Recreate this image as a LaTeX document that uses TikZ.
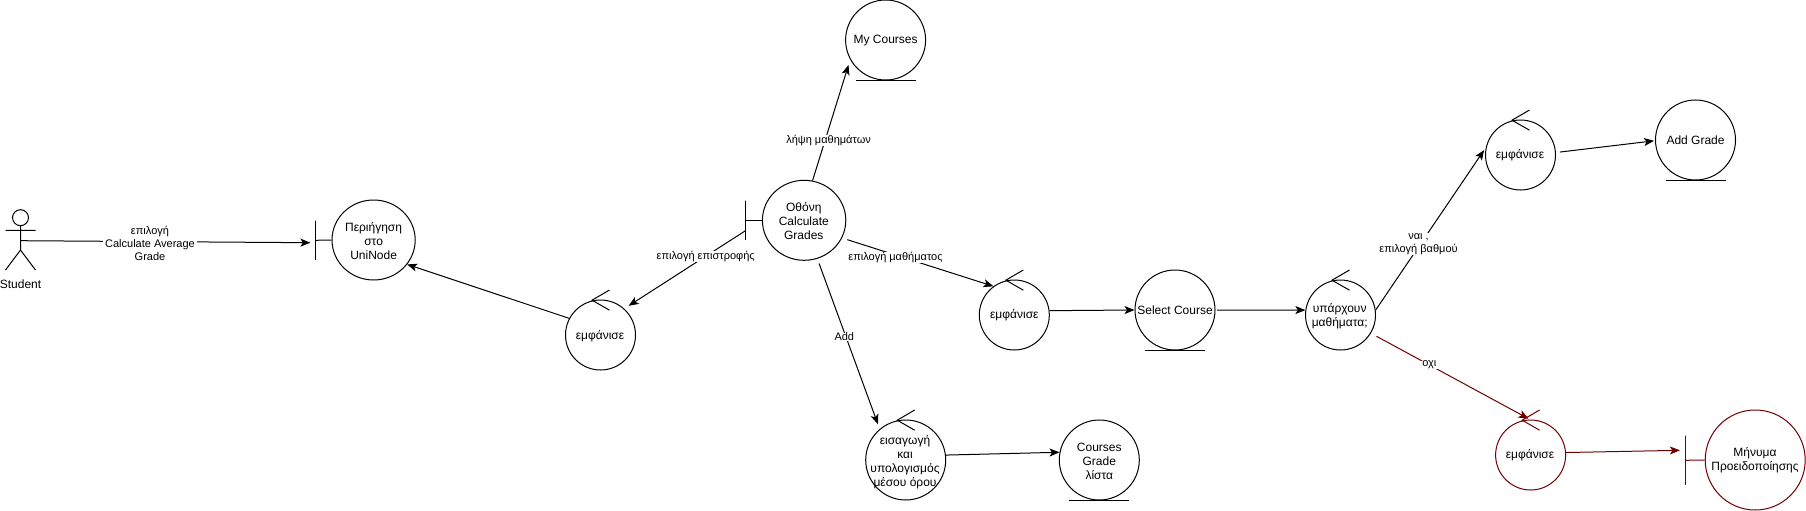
\documentclass[tikz,border=0pt]{standalone}
\usepackage{fontspec}
\setmainfont{Liberation Sans}
\usetikzlibrary{arrows.meta,shapes.geometric}
\definecolor{warn}{HTML}{6F0000}
\tikzset{
  bubble/.style={draw,ellipse,inner sep=0pt,minimum width=#1*2pt,minimum height=70pt},
  bubble/.default=35,
  wide/.style={minimum height=80pt},
  txt/.style={align=center,font=\fontsize{12}{14}\selectfont,inner sep=0pt},
  elabel/.style={align=center,font=\fontsize{11}{13}\selectfont,fill=white,inner xsep=2pt,inner ysep=0pt},
  barline/.style={draw,rectangle,inner sep=0pt,minimum width=0pt},
  conn/.style={-{Stealth[length=10pt,width=8pt,inset=2.5pt]},line width=1pt},
  every path/.append style={line width=1pt}
}
\newcommand{\ctlmark}[2][black]{\draw[#1] ([shift={(9,-9.5)}]#2.north) -- ([shift={(-8.5,0.7)}]#2.north) -- ([shift={(9,10.7)}]#2.north);}
\newcommand{\entmark}[1]{\draw ([xshift=-30pt]#1.south) -- ([xshift=30pt]#1.south);}
\begin{document}
\begin{tikzpicture}[x=1pt,y=-1pt]
\useasboundingbox (0,0) rectangle (1806,511);
% actor
\node[draw,circle,inner sep=0pt,minimum size=16pt] (stuhead) at (20.5,217.7) {};
\coordinate (stu) at (20.5,240.7);
\draw (stuhead.south) -- (20.5,250) (5.5,230.3) -- (35.5,230.3) (5.5,270) -- (20.5,250) -- (35.5,270);
\node[txt] (stulabel) at (20.5,284.3) {Student};
% boundary Periigisi
\node[bubble=41.6,wide] (per) at (373.6,240) {};
\node[barline,minimum height=39.3pt] (perbar) at (315.5,240.3) {};
\draw (perbar) -- (per.180);
\node[txt] (pert) at (373.6,241) {Περιήγηση\\στο\\UniNode};
% boundary Othoni
\node[bubble=41.7,wide] (oth) at (804.1,220.3) {};
\node[barline,minimum height=39.3pt] (othbar) at (745.5,220.3) {};
\draw (othbar) -- (oth.180);
\node[txt] (otht) at (803.8,221.5) {Οθόνη\\Calculate\\Grades};
% entities
\node[bubble=40,wide] (mc) at (885.6,40) {};
\node[txt] (mct) at (885.6,40.5) {My Courses};
\entmark{mc}
\node[bubble=40,wide] (sel) at (1175,310) {};
\node[txt] (selt) at (1175,310.5) {Select Course};
\entmark{sel}
\node[bubble=40,wide] (cgl) at (1099.3,460) {};
\node[txt] (cglt) at (1099.3,461) {Courses\\Grade\\λίστα};
\entmark{cgl}
\node[bubble=40,wide] (add) at (1695.5,140) {};
\node[txt] (addt) at (1695.5,140.5) {Add Grade};
\entmark{add}
% controls
\node[bubble] (ctla) at (600.5,335) {};
\node[txt] (ctlat) at (600,336) {εμφάνισε};
\ctlmark{ctla}
\node[bubble] (ctlb) at (1014.3,315) {};
\node[txt] (ctlbt) at (1014.3,315.7) {εμφάνισε};
\ctlmark{ctlb}
\node[bubble=40,wide] (ctle) at (905.7,460) {};
\node[txt] (ctlet) at (905,462.5) {εισαγωγή\\και\\υπολογισμός\\μέσου όρου};
\ctlmark{ctle}
\node[bubble] (yp) at (1340.5,315) {};
\node[txt] (ypt) at (1339.7,316) {υπάρχουν\\μαθήματα;};
\ctlmark{yp}
\node[bubble] (ctlc) at (1520.5,155) {};
\node[txt] (ctlct) at (1520,155.7) {εμφάνισε};
\ctlmark{ctlc}
\node[bubble,draw=warn] (ctld) at (1530.6,455) {};
\node[txt] (ctldt) at (1530,455.7) {εμφάνισε};
\ctlmark[warn]{ctld}
% boundary warning
\node[bubble=50,minimum height=100pt,draw=warn] (msg) at (1755.2,460) {};
\node[barline,draw=warn,minimum height=49.3pt] (msgbar) at (1685.2,460.3) {};
\draw[warn] (msgbar) -- (msg.180);
\node[txt] (msgt) at (1755,460.7) {Μήνυμα\\Προειδοποίησης};
% connectors
\draw[conn] (stu) -- ([shift={(-5.1,2.4)}]perbar.center);
\draw[conn] (ctla.152.2) -- (per.-36);
\draw[conn,shorten >=5.6pt] (oth.78.4) -- (mc.209.3);
\draw[conn,shorten >=5.2pt] ([shift={(0,10.4)}]othbar.center) -- (ctla.48.2);
\draw[conn,shorten <=5.5pt] (oth.-25.3) -- (ctlb.126.8);
\draw[conn,shorten <=5pt,shorten >=5pt] (oth.-71.4) -- (ctle.130.5);
\draw[conn] (ctlb.7.6) -- (sel.180);
\draw[conn,shorten <=1.7pt] (sel.0) -- (yp.172.4);
\draw[conn,shorten >=3pt] (yp.8) -- (ctlc.168.3);
\draw[conn,shorten <=4pt,shorten >=1pt] (ctlc.4) -- (add.181);
\draw[conn] (ctle.7) -- (cgl.169.7);
\draw[conn,warn,shorten <=6.3pt,shorten >=1.7pt] (yp.-31.7) -- (ctld.91);
\draw[conn,warn] (ctld.4.4) -- ([shift={(-5.3,-10)}]msgbar.center);
% labels
\node[elabel] (la) at (150,243.3) {επιλογή\\Calculate Average\\Grade};
\node[elabel] (lb) at (828.6,140.3) {λήψη μαθημάτων};
\node[elabel] (lc) at (705.7,256.7) {επιλογή επιστροφής};
\node[elabel] (ld) at (895.5,257.3) {επιλογή μαθήματος};
\node[elabel] (le) at (844.3,337) {Add};
\node[elabel] (lf) at (1418.5,244) {ναι ,\\επιλογή βαθμού};
\node[elabel] (lg) at (1429.3,365) {οχι};
\end{tikzpicture}
\end{document}
